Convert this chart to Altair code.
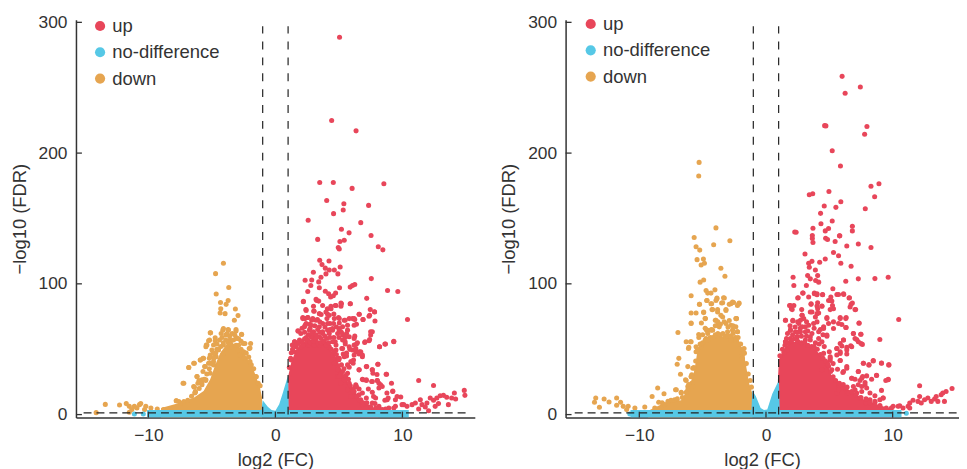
import altair as alt
import pandas as pd

FONT = "Liberation Sans"
INK = "#333333"
C_UP, C_NO, C_DOWN = "#E8465A", "#56C8E6", "#E6A550"

# ---------- left panel ----------
L_up = [
(5.05,288.6),(4.43,225),(6.35,217),(3.49,177.5),(4.56,177.5),(6.04,173),(8.54,176.5),(4.04,163.8),(5.39,161.3),(7.34,160),
(5.34,156.5),(4.58,153.7),(2.58,148.6),(6.72,146.8),(5.2,141.8),(5.8,139),(7.53,137),(3.33,134),(5.42,133.4),(5.08,132.4),
(4.95,127.8),(5.03,126.6),(8.1,128.4),(8.46,126),(3.49,118),(3.67,114.7),(4.22,117.5),(3.93,112),(4.24,110.6),(5.1,112.9),
(4.64,110.6),(2.99,108.9),(4.92,107.6),(3.98,107.6),(3.59,105),(2.34,102.8),(2.86,103),(3.41,101.5),(2.79,98.7),(7.55,104),
(6.25,99.5),(6.07,98.7),(5.89,97.5),(5.05,97),(3.46,97),(2.55,94.2),(3.93,94.4),(4.19,92.4),(4.74,92.9),(4.35,89.9),
(4.56,90.9),(8.83,94.9),(9.64,94.2),(7.19,88.9),(3.2,88.1),(3.41,86.8),(2.2,86.3),(5.2,84.8),(4.77,83.5),(5.9,84.8),
(4.37,82.8),(3.0,82.8),(2.4,80.3),(4.09,81),(3.05,79),(4.1,77),(4.6,77),(3.6,76.5),(7.47,80.3),(7.8,78.7),
(6.6,76.7),(7.37,75.2),(6.9,72.7),(10.4,72.7),(2.16,74.2),(2.34,73.4),(2.55,74.2),(2.86,72.2),(3.31,72.7),(4.06,73.4),
(4.3,69.6),(4.97,74.2),(5.49,72.2),(6.07,73.4),(6.25,72.7),(5.03,70.1),(4.58,69.6),(2.34,68.4),(2.73,65.8),(3.46,67.1),
(4.11,64.6),(5.29,67.1),(5.68,68.4),(6.38,69.1),(7.63,63.3),(7.5,60.8),(1.8,63.8),(3.0,63.3),(3.72,62),(4.5,64.6),
(5.03,64.6),(5.6,62),(6.25,60),(9.32,56),(8.67,53.9),(8.2,51.9),(7.37,56.5),(7.03,55.2),(5.49,55.7),(4.71,55.7),
(4.04,58.2),(3.46,59.5),(2.81,59.5),(2.42,59),(1.51,55.7),(1.77,54.4),(1.33,53.2),(2.03,51.9),(3.07,53.2),(3.98,54.4),
(6.2,53.2),(6.38,53.9),(6.07,49.4),(5.86,49.9),(5.23,50.6),(4.77,49.4),(4.24,51.9),(2.55,53.2),(1.25,47.3),(1.46,48.1),
(6.33,48.1),(6.72,48.1),(6.85,44.3),(6.59,46.3),(6.15,41.8),(5.6,44.8),(5.34,46.3),(4.9,43),(6.12,39.2),(5.81,36.2),
(6.59,34.2),(7.19,36.7),(8.07,38.5),(7.63,34.2),(8.0,30.6),(8.72,30.9),(6.9,26.6),(7.16,26.6),(7.58,25.3),(8.02,26.1),
(8.15,24),(9.14,24),(11.28,26.1),(12.45,22.3),(6.33,22.8),(5.81,24),(5.49,27.8),(5.18,31.1),(4.92,29.1),(5.68,31.6),
(6.59,19.5),(6.85,16.5),(7.16,12.7),(7.73,13.9),(7.84,8.4),(8.62,10.9),(8.88,12.7),(9.24,18),(8.78,16.5),(9.87,13.4),
(9.45,11.4),(8.15,20.3),(7.63,17),(6.28,21),(5.96,19.5),(6.72,11.4),(6.2,13.9),(8.41,3.8),(8.93,5.1),(9.45,6.3),
(9.97,7.6),(10.36,6.3),(10.76,7.6),(11.02,8.9),(11.41,11.4),(11.54,7.6),(12.06,3),(11.93,8.9),(12.19,12.7),(12.45,10.9),
(12.71,12.7),(12.97,14.4),(13.23,14.7),(13.49,13.2),(13.62,7.6),(13.88,12.7),(14.09,16.5),(14.19,11.9),(14.87,18.5),(14.92,14.7),
(12.58,6.3),(11.8,5.8),(12.84,8.4),(11.28,4.3),
(2.21,86.6),(3.26,87.3),(3.72,83.5),(4.38,81),(4.71,83.5),(5.16,85.3),(5.16,82.8),(5.89,84.8),(3.98,78.5),(4.24,75.9),
(3.46,77.2),(3.02,79.2),(2.42,79.7),(2.16,73.4),(2.55,74.2),(2.94,73.4),(2.42,69.6),(2.81,68.4),(3.2,72.2),(3.72,69.6),
(4.11,69.6),(4.64,73.4),(5.03,73.4),(5.42,72.2),(5.81,73.4),(6.2,73.4),(6.59,76.7),(6.9,72.7),(7.42,75.9),(7.81,78.5),
(7.84,71.6),(6.2,68.4),(4.5,65.8),(5.03,65.8),(5.68,64.6),(2.29,67.1),(1.77,64.1),(2.68,64.6),(3.33,65.1),(3.72,63.3),
(4.24,62),(4.9,62),(5.29,60.8),(5.81,59.5),(6.2,58.2),(6.46,54.9),(7.5,63.3),(7.42,57.5),(7.06,55.7),(8.62,53.9),
(9.32,55.7),(8.2,51.9),(1.51,55.7),(1.9,57),(2.42,58.2),(2.94,59.5),(3.59,58.2),(4.5,55.7),(5.29,57),(1.64,51.9),
(1.38,48.1),(1.25,41.8),(5.81,51.9),(6.33,50.6),(6.59,48.1),(6.85,45.6),(6.2,45.6),(5.29,50.6),(4.77,53.2),(4.11,51.9),
(3.46,53.2),(2.68,53.2),(2.16,53.2),(5.42,44.3),(5.03,43),(4.5,45.6),(5.94,40.5),(6.59,34.2),(7.16,36.7),(8.07,38.5),
(7.63,34.2),(7.68,31.6),(8.75,30.9),(4.9,34.2),(5.29,32.9),(5.68,38),(4.64,39.2),(6.85,27.1),(7.16,26),(7.63,25.3),
(8.02,26),(8.28,22.8),(7.32,19.5),(6.38,21.5),(6.2,17.7),(5.68,19),(5.94,13.9),(6.59,15.2),(5.03,29.1),(5.16,24),
(5.42,26.6),(7.89,12.7),(8.41,21.5),(9.24,17.7),(8.8,11.4),(9.58,13.9),(7.63,8.9),(6.85,7.6),(8.15,6.3),(8.67,4.3),
(9.32,5.1),(10.1,7.6),
(1.1,36),(1.2,43),(1.35,50),(1.6,53),(1.85,55),(2.1,56),(2.3,58),(2.55,57),(2.75,55),(3,56),(3.2,58),(3.35,55),(3.6,55),
(3.8,56),(4.0,53),(4.2,55),(4.4,50),(4.6,48),(4.8,46),(5,42),(5.2,38),(5.4,35),(5.55,30),(5.75,27),(5.9,22),(6.1,18),
(6.4,14),(6.6,11),(6.9,9),(7.2,9),(7.5,6),(7.9,5),(8.2,4),(2,62),(2.3,63),(2.6,61),(2.9,62),(3.2,61),(3.5,63),(3.9,60),
(4.3,59),(4.6,59),(5,59),(5.5,54),(5.6,47),(2.1,66),(2.7,69),(3.1,68),(3.5,71),(3.9,67),(4.3,65),(4.8,67),(5.2,63),(5.5,59),
]
L_down = [
(-4.09,115.7),(-4.71,107.8),(-3.67,97.2),(-4.66,92.2),(-3.72,87.3),(-4.32,85.8),(-3.88,84.3),(-4.3,81),(-3.15,80.8),(-4.35,77.7),
(-3.96,77.2),(-2.94,75.7),(-3.23,72.2),(-5.1,62.5),(-4.14,64.6),(-3.1,64),(-3.72,65),(-2.66,61.5),(-4.74,58.7),(-5.18,57),
(-5.39,53.2),(-5.47,51.9),(-3.05,58.7),(-2.4,54.4),(-2,51),(-5.7,43),(-5.91,41.8),(-6.38,39.2),(-6.82,36),(-5.57,36.7),
(-5.26,39.2),(-5.13,44.3),(-4.87,40.5),(-4.66,44.3),(-4.48,49.4),(-4.87,53.2),(-6.17,29.1),(-6.02,26),(-5.49,26),(-7.21,24),
(-6.38,21),(-5.78,22.8),(-6.35,16.5),(-7.79,10.6),(-7.47,8.9),(-13.39,7.8),(-14.11,1.5),(-12.27,7.3),(-11.74,8.4),(-11.5,6.3),
(-11.1,6.3),(-10.7,7.6),(-10.6,8.4),(-10.2,6.3),(-9.8,5.1),(-9.3,4.3),(-8.8,3.8),(-11.5,1.8),(-11.3,3.8),(-10.9,5.1),
(-10.3,3.8),(-8.3,3.8),
(-5.13,62.5),(-5.26,56.5),(-5.44,53.2),(-4.74,56.5),(-4.09,65.8),(-3.7,64.6),(-4.27,62),(-3.91,60.8),(-3.57,57),(-3.1,65),
(-2.66,61.3),(-3.1,58.2),(-2.53,54.4),(-1.95,54.4),(-2.06,50.6),(-5,49.4),(-4.61,49.9),(-4.09,53.2),(-3.44,51.9),(-2.92,49.4),
(-6.43,39.2),(-6.82,36),(-5.91,41.8),(-5.65,43),(-5.52,36.7),(-5.13,39.2),(-4.74,44.3),(-4.09,46.8),(-2.79,45.6),(-2.4,43),
(-2,40.5),(-7.27,24),(-6.17,29.1),(-6.43,21.5),(-5.78,26.6),(-5.47,26.6),(-7.81,10.6),(-6.3,17.7),(-5.13,31.6),(-4.87,38),
(-1.54,29.1),(-5.13,45.6),
(-7.6,10),(-7.2,10),(-6.9,11),(-6.6,14),(-6.3,17),(-6,20),(-5.8,24),(-5.6,27),(-5.4,31),(-5.2,35),(-5,39),(-4.85,43),(-4.7,47),
(-4.5,50),(-4.3,52),(-4.1,55),(-3.9,57),(-3.7,55),(-3.5,54),(-3.3,57),(-3.1,53),(-2.9,53),(-2.7,50),(-2.5,48),(-2.3,47),(-2.1,44),
(-1.9,38),(-1.7,35),(-1.5,29),(-1.35,24),(-1.2,22),(-4.6,54),(-4.4,57),(-4.2,59),(-3.8,62),(-3.6,60),(-3.4,62),(-3.2,61),(-2.9,58),
(-2.7,56),(-4.9,47),(-5.2,43),(-5.7,33),(-6.1,24),
]
L_no = [(-11.1,0.5),(-10.4,0.5)]
L_up_core = [(1,3),(1,29),(1.25,40),(1.64,50),(2.4,57),(3,58),(4,54),(4.76,44),(5.5,28),(6.6,13),(7.4,7),(8.1,3.5)]
L_down_core = [(-9,3),(-9,5),(-7.5,9),(-6.4,13),(-5.65,18),(-5.13,27),(-4.74,38),(-4.35,47),(-3.83,54),(-3.05,54),(-2.27,44),(-1.75,35),(-1.22,21),(-1.05,13),(-1.05,3)]
L_no_v = [(-10.1,3.5),(-1.1,3.5),(-1,11),(-0.6,6),(-0.3,3.5),(0,3),(0.3,8),(0.6,17),(1,30),(1.05,3.5),(10.5,3.5)]

# ---------- right panel ----------
R_up = [
(6.01,258.7),(7.45,250.6),(6.25,245.8),(4.63,221),(4.73,220.8),(7.97,220.3),(7.79,214.4),(5.23,201.8),(5.88,190.1),(8.92,176.5),
(8.29,174.7),(4.97,170.6),(3.69,168.9),(3.42,168.1),(8.58,166.6),(5.91,162.8),(4.6,159.5),(5.52,158.5),(7.84,157.5),(4.31,153.9),
(5.23,148.1),(4.34,146),(6.82,144),(3.71,142.5),(4.94,142.3),(4.68,140.5),(6.82,140.5),(2.27,139.7),(2.38,139.5),(3.66,137),
(5.83,136.7),(3.66,134.7),(4.71,134.9),(4.86,133.9),(5.46,132.4),(3.71,131.6),(5.8,136.7),(6.38,129),(7.29,130.4),(8.29,127.8),
(3.08,122.8),(5.33,124),(5.73,121.5),(4.68,119),(4.24,116.5),(3.63,117.2),(3.37,115.7),(3.42,112.7),(5.91,115.7),(6.72,113.4),
(3.9,110.6),(3.29,106.3),(4.08,106.3),(2.14,105),(3.5,103.8),(3.92,102.5),(4.16,101.3),(3.19,98.7),(2.2,98.7),(6.3,102),
(7.29,103.8),(8.6,104),(9.65,105),(5.28,96.2),(6.12,92.4),(5.6,91.9),(3.82,92.9),(4.03,92.4),(4.47,91.9),(2.9,92.9),
(2.51,89.1),(3.37,89.9),(6.56,89.1),(5.12,89.9),(4.94,87.3),(5.2,86.8),(6.82,85.3),(4.08,85.6),(3.56,84.3),(6.64,82.3),
(7.03,80.3),(5.33,81),(4.08,81),(4.42,82.8),(1.86,83.5),(2.01,81),(2.82,80.3),(3.5,78.5),(4.03,77.2),(2.85,76),
(10.48,72.7),(5.86,74.2),(6.33,74.2),(4.81,74.2),(2.98,73.4),(2.12,72.2),(1.54,72.2),(4.03,70.9),(7.35,69.9),(5.99,68.9),
(4.94,69.6),(4.55,67.1),(6.33,66.6),(5.33,65.8),(3.11,67.1),(2.59,69.6),(1.93,64.6),(4.16,63.3),(4.81,60),(6.9,62),
(7.48,61.5),(7.03,58.2),(8.99,57.5),(7.29,55.7),(7.61,53.7),(6.12,57),(5.86,54.4),(6.69,52.7),(6.38,51.4),(5.6,50.6),
(4.42,55.7),(1.62,58.2),(1.54,55.7),(2.46,59.5),(3.5,59.5),(1.67,49.4),(1.41,47.3),(4.55,46.8),(5.86,41.3),(5.07,44.3),
(5.07,41.3),(6.38,46.3),(5.86,48.1),(7.69,39.2),(8.13,38),(8.47,41.3),(9.12,39.5),(9.7,38),(7.29,32.9),(6.38,36.7),
(6.12,32.9),(4.81,39.2),(5.2,34.2),(6.77,27.8),(7.63,29.1),(7.95,29.6),(8.73,30.1),(9.65,26.6),(9.46,26.1),(7.42,26.1),
(7.29,22.8),(7.82,24.6),(7.95,20.3),(6.9,21.5),(6.25,20.3),(5.73,21.5),(5.59,16.5),(6.38,16.5),(6.77,17.7),(7.16,16.5),
(7.56,17.7),(12.13,22),(8.21,11.4),(8.6,10.1),(8.99,11.4),(9.25,12.7),(9.12,18.5),(7.9,8.9),(7.42,12.7),(10.04,6.3),
(10.43,6.3),(10.82,5.1),(11.22,6.3),(11.35,8.9),(11.61,10.9),(12,10.1),(12.26,8.9),(12.52,11.4),(12.78,12.7),(13.05,10.1),
(13.31,11.9),(13.57,10.1),(13.83,15.2),(14.09,10.1),(14.22,17.7),(14.69,20),(13.96,16.5),(12.13,13.9),(13.44,13.9),(11.35,5.1),
(2.54,89.4),(2.93,92.9),(3.82,92.4),(4.47,91.6),(4.03,91.6),(5.73,91.9),(6.14,91.9),(6.59,89.4),(1.93,83.5),(2.2,83.5),
(3.56,84.8),(4.03,83),(4.42,83),(5.07,87.3),(5.25,83.5),(6.72,84.3),(7.08,80.3),(2.07,80.3),(3.63,78.5),(4.16,77.7),
(5.07,80.3),(1.54,72.2),(2.12,71.6),(2.85,75.9),(2.72,72.2),(3.9,74.7),(4.81,73.4),(3.76,69.6),(5.86,73.4),(6.3,73.4),
(5.73,69.6),(5.33,70.9),(4.55,65.8),(4.29,65.1),(6.3,66.6),(7.35,70.1),(2.85,67.1),(3.37,68.4),(1.93,64.6),(2.33,63.3),
(2.72,63.3),(3.11,63.3),(3.63,62),(6.9,62),(7.5,61.5),(7.16,57.5),(7.5,54.4),(1.54,55.7),(1.93,58.2),(2.46,59.5),
(3.11,57),(4.16,58.2),(4.81,60.8),(6.12,57),(6.77,51.9),(5.99,52.4),(5.59,50.6),(6.38,49.4),(5.86,46.8),(5.59,45.6),
(5.07,43),(5.86,41.3),(7.69,39.2),(8.13,38),(8.47,41),(9.12,39.2),(9.7,38),(5.65,34.7),(6.38,35.4),(6.07,32.2),
(7.29,32.9),(6.77,27.8),(7.03,27.1),(7.56,27.8),(8.34,27.1),(8.73,29.9),(9.65,27.1),(4.94,36.7),(4.42,34.2),(7.82,22.8),
(8.21,16.5),(7.56,21.5),(7.03,19),(5.73,19),(6.51,16.5),(8.6,14.4),(9.25,12.7),(9.9,5),(10.56,6.8),
(1.1,45),(1.3,50),(1.5,53),(1.75,55),(2,56),(2.25,58),(2.5,56),(2.8,55),(3.05,55),(3.3,53),(3.6,52),(3.8,52),(4.05,50),(4.3,46),
(4.5,43),(4.7,41),(4.9,38),(5.1,33),(5.3,29),(5.5,26),(5.8,24),(6.1,23),(6.4,21),(6.8,17),(7.1,15),(7.5,13),(7.9,12),(8.2,9),
(8.6,9),(9,7),(9.5,5),(1.7,62),(2.1,61),(2.5,63),(2.8,60),(3.2,60),(3.5,57),(3.9,55),(4.2,54),(4.6,52),(5,48),(5.3,39),(2.3,67),
(2.7,66),(3.3,64),(3.8,66),(4.5,61),(1.9,68),(2.5,71),(3.2,71),
]
R_down = [
(-5.28,192.9),(-5.31,182.5),(-3.95,142.8),(-5.67,135.4),(-2.85,132.9),(-5.52,128.4),(-5.23,125.8),(-4.13,129.9),(-5.44,118.5),(-4.94,119),
(-4.86,115.7),(-5.12,114.4),(-3.56,111.9),(-3.24,105.8),(-4.92,103),(-5.2,101.3),(-4.73,94.9),(-4.6,92.9),(-4.34,92.9),(-4.03,95.4),
(-5.91,90.9),(-3.87,89.1),(-3.95,87.3),(-3.29,89.1),(-3.42,85.6),(-4.68,87.3),(-4.29,84.8),(-5.25,84.3),(-2.77,84.8),(-2.56,85.8),
(-2.25,83.5),(-5.91,77.7),(-5.52,77.7),(-4.92,78),(-4.26,80.3),(-3.82,80.3),(-3.16,80.3),(-4.78,73.4),(-5.91,69.6),(-4,72.2),
(-3.42,74.7),(-2.38,73.4),(-6.95,62.8),(-4.68,64.6),(-4.21,64.6),(-5.31,61.3),(-3.82,68.4),(-2.77,68.4),(-6.3,55.7),(-5.91,55.7),
(-6.09,51.4),(-4.73,58.2),(-3.69,60),(-2.77,58.2),(-5.52,48.1),(-5.12,51.9),(-6.88,43),(-7.01,38.5),(-6.17,36.7),(-6.75,30.9),
(-5.65,35.4),(-5.86,30.4),(-6.3,26),(-5.86,24),(-6.17,21.5),(-7.14,19),(-6.69,17),(-8.05,16),(-8.99,13.9),(-8.55,20.3),
(-8.47,9.4),(-7.74,10.1),(-7.22,11.4),(-13.44,12.7),(-13.54,9.4),(-13.15,5.6),(-12.78,11.9),(-12.39,9.6),(-11.79,12.7),(-11.79,7.1),
(-11.48,9.4),(-11.27,6.3),(-10.88,6.3),(-10.35,5.1),(-9.57,5.8),(-11,3.8),(-8.78,5.1),(-8,7.6),(-2.64,86),(-2.12,85.3),
(-2.9,84.3),(-2.33,73.4),(-2.64,64.6),(-2.25,63.3),(-2.5,57),(-1.73,50.6),(-1.86,45.6),
(-5.25,84.3),(-4.65,87.3),(-4.34,84.8),(-3.87,88.6),(-3.35,89.4),(-3.5,85.3),(-2.14,84.8),(-4.92,78.5),(-4.81,73.4),(-4.21,80.3),
(-3.82,78.5),(-3.16,79.7),(-3.56,75.9),(-2.33,73.4),(-3.95,72.2),(-5.91,70.1),(-4.65,64.6),(-4.34,64.6),(-3.69,67.1),(-3.16,69.6),
(-2.38,67.1),(-2.25,63.3),(-5.96,55.7),(-6.12,50.6),(-3.82,59.5),(-3.03,63.3),(-2.77,57),(-5.52,51.9),(-1.86,43),(-6.35,26.6),
(-5.78,35.4),(-5.91,29.1),(-7.08,19),(-6.69,16.5),(-6.17,19),(-5.78,21.5),
(-8.2,9),(-7.5,11),(-7,12),(-6.6,13),(-6.3,17),(-6.1,23),(-5.9,29),(-5.7,36),(-5.55,41),(-5.4,50),(-5.2,54),(-5,55),(-4.8,57),
(-4.6,57),(-4.4,59),(-4.2,59),(-4,61),(-3.8,62),(-3.6,61),(-3.4,62),(-3.2,60),(-3,60),(-2.8,60),(-2.6,62),(-2.4,59),(-2.2,59),
(-2,54),(-1.85,50),(-1.7,47),(-1.55,39),(-1.4,31),(-1.25,26),(-1.15,21),(-5.3,59),(-5,61),(-4.6,62),(-4.3,65),(-4,68),(-3.6,69),
(-3.3,71),(-3,67),(-2.6,68),(-4.8,66),(-5.1,70),(-3.8,71),(-2.9,72),
]
R_no = [(11.08,1),(-10.75,0.5)]
R_up_core = [(0.94,3),(0.94,26),(1.02,42),(1.54,52),(2.07,56),(3.11,54),(3.9,50),(4.42,44),(4.94,36),(5.2,29),(6.25,21),(7.82,11),(8.86,7.6),(10.17,3.5)]
R_down_core = [(-9.3,3),(-8,9),(-6.7,11),(-6.04,21.5),(-5.65,34),(-5.39,50),(-4.73,57),(-4.08,60),(-3.03,60),(-2.25,60),(-1.73,46),(-1.33,24),(-1.07,16),(-1.07,3)]
R_no_v = [(-10.7,3.5),(-1.15,3.5),(-1.07,18.5),(-0.8,14),(-0.42,5),(-0.16,3.5),(0.1,3.8),(0.5,16),(0.9,24),(1.02,26),(1.08,3.5),(10.7,3.5)]

X_TICKS = [-10, 0, 10]
Y_TICKS = [0, 100, 200, 300]
V_LINES = [-1, 1]
H_SPAN = [-15.1, 15.05]
THRESH = 1.3
CATS = ["up", "no-difference", "down"]


def panel(up, down, no, up_core, down_core, no_v, xdom, w, legend_y, legend_x):
    h = 401
    xs = alt.Scale(domain=xdom, nice=False, zero=False)
    ys = alt.Scale(domain=[-2.3, 302], nice=False, zero=False)
    color = alt.Color(
        "g:N",
        scale=alt.Scale(domain=CATS, range=[C_UP, C_NO, C_DOWN]),
        sort=CATS,
        legend=alt.Legend(
            title=None, orient="none", legendX=legend_x, legendY=legend_y,
            labelFont=FONT, labelFontSize=18.6, labelColor=INK,
            symbolType="circle", symbolSize=105, symbolStrokeWidth=0,
            rowPadding=7.5, labelOffset=3, padding=0,
        ),
    )
    X = alt.X("x:Q", scale=xs, axis=alt.Axis(
        values=X_TICKS, title="log2 (FC)", grid=False, ticks=False, labelPadding=9,
        titlePadding=7, domainColor=INK, domainWidth=1.5, labelColor=INK, titleColor=INK,
        labelFont=FONT, titleFont=FONT, labelFontSize=17.5, titleFontSize=18.5, titleFontWeight="normal"))
    Y = alt.Y("y:Q", scale=ys, axis=alt.Axis(
        values=Y_TICKS, title="\u2212log10 (FDR)", grid=False, ticks=False, labelPadding=9,
        titlePadding=10, domainColor=INK, domainWidth=1.5, labelColor=INK, titleColor=INK,
        labelFont=FONT, titleFont=FONT, labelFontSize=17.5, titleFontSize=18.5, titleFontWeight="normal",
        minExtent=37, maxExtent=37))

    def frame(rows):
        return pd.DataFrame(rows, columns=["x", "y"])

    def core(rows, col):
        return alt.Chart(frame(rows).assign(b=-2.0)).mark_area(color=col, opacity=1, interpolate="linear").encode(
            x=X, y=Y, y2="b:Q",
        )

    pts = pd.concat([
        frame(up).assign(g="up"),
        frame(down).assign(g="down"),
    ])
    dots = alt.Chart(pts).mark_circle(size=26, opacity=1).encode(x=X, y=Y, color=color)
    nodots = alt.Chart(frame(no)).mark_circle(size=26, opacity=1, color=C_NO).encode(x=X, y=Y)

    vl = alt.Chart(pd.DataFrame({"x": V_LINES, "y": [0, 0], "y2": [297, 297]})).mark_rule(
        color="#222222", strokeWidth=1.2, strokeDash=[8, 8]).encode(x=X, y=Y, y2="y2:Q")
    hl = alt.Chart(pd.DataFrame({"x": [H_SPAN[0]], "x2": [H_SPAN[1]], "y": [THRESH]})).mark_rule(
        color="#222222", strokeWidth=1.2, strokeDash=[8, 5]).encode(x=X, x2="x2:Q", y=Y)
    xt = alt.Chart(pd.DataFrame({"x": X_TICKS})).mark_rule(color=INK, strokeWidth=1.3).encode(
        x=X, y=alt.value(h), y2=alt.value(h - 6))
    yt = alt.Chart(pd.DataFrame({"y": Y_TICKS})).mark_rule(color=INK, strokeWidth=1.3).encode(
        y=Y, x=alt.value(0), x2=alt.value(6))

    return alt.layer(
        core(up_core, C_UP), core(down_core, C_DOWN), dots, core(no_v, C_NO), nodots, hl, vl, xt, yt
    ).properties(width=w, height=h)


left = panel(L_up, L_down, L_no, L_up_core, L_down_core, L_no_v, [-15.7, 15.7], 402, -3, 15)
right = panel(R_up, R_down, R_no, R_up_core, R_down_core, R_no_v, [-15.82, 15.2], 396, -5, 16)

chart = (
    alt.hconcat(left, right, spacing=25.5)
    .resolve_legend(color="independent")
    .properties(padding={"left": 2.5, "top": 3, "right": 0, "bottom": 0})
    .configure_view(stroke=None)
)
chart.save("out.html", embed_options={"renderer": "svg", "actions": False})
